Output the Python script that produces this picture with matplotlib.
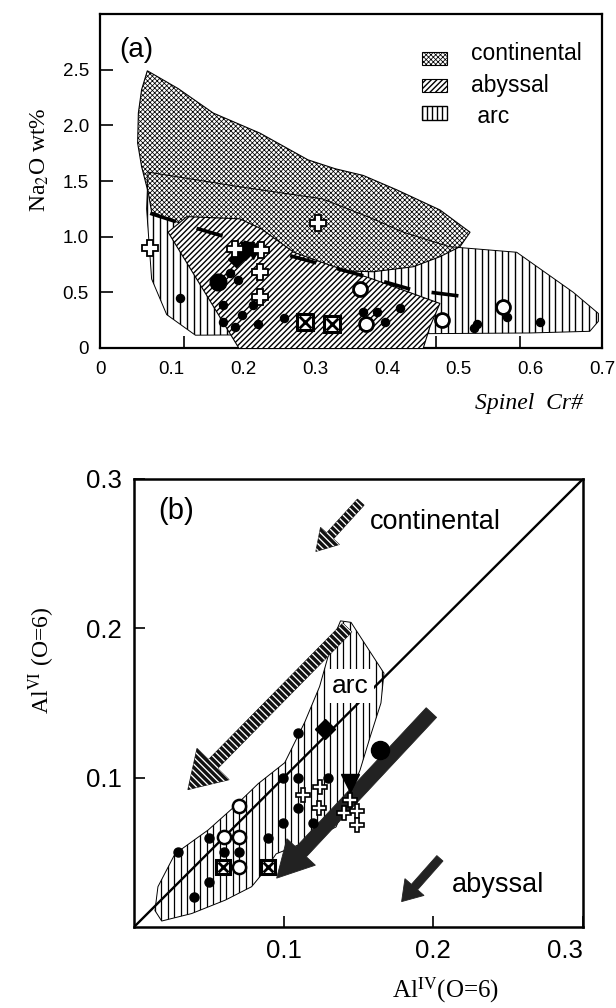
import numpy as np
import matplotlib
matplotlib.use("Agg")
import matplotlib.pyplot as plt
from matplotlib.patches import Polygon, Rectangle, FancyArrow
from matplotlib.collections import LineCollection

plt.rcParams['font.family'] = ['Liberation Sans', 'DejaVu Sans']
plt.rcParams['font.serif'] = ['Liberation Serif', 'DejaVu Serif']
plt.rcParams['mathtext.fontset'] = 'stix'
plt.rcParams['hatch.linewidth'] = 0.8

# ---------------- panel (a): Na2O vs spinel Cr# ----------------
cont_field_a = [(0.066, 2.49), (0.109, 2.33), (0.158, 2.11), (0.223, 1.93), (0.29, 1.69),
                (0.328, 1.61), (0.367, 1.55), (0.414, 1.42), (0.474, 1.24), (0.516, 1.04),
                (0.502, 0.91), (0.474, 0.82), (0.437, 0.73), (0.381, 0.685), (0.30, 0.70),
                (0.20, 0.90), (0.12, 1.10), (0.072, 1.22), (0.0675, 1.39), (0.058, 1.63),
                (0.0525, 1.84), (0.0535, 2.11), (0.058, 2.32)]
abys_field_a = [(0.095, 1.04), (0.121, 1.18), (0.195, 1.16), (0.225, 1.07), (0.27, 0.86),
                (0.32, 0.745), (0.38, 0.62), (0.474, 0.40), (0.46, 0.19), (0.446, -0.1),
                (0.203, -0.1)]
arc_field_a = [(0.067, 1.58), (0.193, 1.45), (0.31, 1.34), (0.377, 1.17), (0.423, 1.04),
               (0.487, 0.91), (0.581, 0.86), (0.66, 0.50), (0.695, 0.31), (0.695, 0.24),
               (0.683, 0.15), (0.60, 0.135), (0.133, 0.115), (0.093, 0.30), (0.072, 0.62),
               (0.065, 1.25)]
trend_a_x = [0.07, 0.137, 0.27, 0.372, 0.437, 0.51]
trend_a_y = [1.21, 1.07, 0.82, 0.64, 0.52, 0.46]

dots_a_x = [0.1116, 0.172, 0.198, 0.214, 0.172, 0.188, 0.221, 0.256, 0.181, 0.193,
            0.367, 0.386, 0.3975, 0.418, 0.525, 0.521, 0.567, 0.613]
dots_a_y = [0.446, 0.386, 0.296, 0.386, 0.236, 0.19, 0.22, 0.266, 0.67, 0.61,
            0.326, 0.326, 0.236, 0.356, 0.22, 0.18, 0.28, 0.236]
bigdot_a_x = [0.165]
bigdot_a_y = [0.595]
diam_a_x = [0.19, 0.202]
diam_a_y = [0.80, 0.86]
tri_a_x = [0.205, 0.214]
tri_a_y = [0.89, 0.865]
cross_a_x = [0.0697, 0.3045, 0.188, 0.225, 0.223, 0.223]
cross_a_y = [0.90, 1.12, 0.89, 0.88, 0.685, 0.46]
circ_a_x = [0.363, 0.371, 0.4775, 0.5625]
circ_a_y = [0.53, 0.213, 0.25, 0.37]
boxx_a_x = [0.286, 0.323]
boxx_a_y = [0.236, 0.22]

xticks_a = [0, 0.1, 0.2, 0.3, 0.4, 0.5, 0.6, 0.7]
xticklabels_a = ['0', '0.1', '0.2', '0.3', '0.4', '0.5', '0.6', '0.7']
yticks_a = [0, 0.5, 1.0, 1.5, 2.0, 2.5]
yticklabels_a = ['0', '0.5', '1.0', '1.5', '2.0', '2.5']
legend_names = ['continental', 'abyssal', ' arc']

# ---------------- panel (b): AlVI vs AlIV ----------------
arc_field_b = [(0.138, 0.205), (0.145, 0.204), (0.167, 0.170), (0.165, 0.150), (0.158, 0.128),
               (0.151, 0.105), (0.135, 0.067), (0.115, 0.057), (0.095, 0.049), (0.086, 0.036),
               (0.0786, 0.027), (0.061, 0.018), (0.0385, 0.009), (0.0185, 0.004), (0.014, 0.011),
               (0.016, 0.027), (0.0274, 0.049), (0.0496, 0.065), (0.0675, 0.081), (0.083, 0.096),
               (0.1007, 0.11), (0.114, 0.137), (0.124, 0.161), (0.133, 0.193)]

dots_b_x = [0.0296, 0.0403, 0.0503, 0.0503, 0.0603, 0.0703, 0.0897, 0.0997, 0.0997,
            0.1098, 0.1098, 0.1098, 0.1298, 0.1198]
dots_b_y = [0.0499, 0.020, 0.0595, 0.0304, 0.0499, 0.0499, 0.0595, 0.0695, 0.0998,
            0.130, 0.0998, 0.0797, 0.0998, 0.0696]
circ_b_x = [0.0703, 0.0603, 0.0703, 0.0703]
circ_b_y = [0.0807, 0.0606, 0.0606, 0.0404]
boxx_b_x = [0.0596, 0.0892]
boxx_b_y = [0.0400, 0.0400]
cross_b_x = [0.113, 0.1243, 0.1233, 0.1443, 0.140, 0.1488, 0.1488]
cross_b_y = [0.0886, 0.094, 0.0796, 0.0852, 0.0763, 0.0774, 0.0685]
diam_b_x = [0.1276]
diam_b_y = [0.1327]
tri_b_x = [0.1443]
tri_b_y = [0.0964]
bigdot_b_x = [0.1643]
bigdot_b_y = [0.1188]

# trend arrows: (tail x, tail y, tip x, tip y)
arrow_cont_b = (0.1515, 0.2845, 0.1215, 0.2515)
arrow_arc_b = (0.1425, 0.2005, 0.036, 0.092)
arrow_abys_b = (0.1987, 0.1436, 0.0953, 0.0327)
arrow_abys_small_b = (0.2044, 0.046, 0.1788, 0.017)

ticks_b = [0.1, 0.2, 0.3]
ticklabels_b = ['0.1', '0.2', '0.3']

W, H = 616, 1008
fig = plt.figure(figsize=(W / 100, H / 100), dpi=100)


def hatch_lw(artist, lw):
    if hasattr(artist, 'set_hatch_linewidth'):
        artist.set_hatch_linewidth(lw)


def vstripe_field(ax, verts, step, lw, z):
    base = Polygon(verts, closed=True, facecolor='white', edgecolor='none', zorder=z)
    ax.add_patch(base)
    xs = [v[0] for v in verts]
    ys = [v[1] for v in verts]
    pos = np.arange(min(xs), max(xs), step)
    lines = ax.vlines(pos, min(ys), max(ys), colors='black', linewidth=lw, zorder=z + 0.05)
    lines.set_clip_path(base)
    return base


def striped_arrow(ax, spec, width, hw, hl, step, z):
    x0, y0, x1, y1 = spec
    arr = FancyArrow(x0, y0, x1 - x0, y1 - y0, width=width, head_width=hw, head_length=hl,
                     length_includes_head=True, facecolor='#111111', edgecolor='#111111',
                     linewidth=0.6, zorder=z)
    ax.add_patch(arr)
    cmin = min(x0, x1) + min(y0, y1) - 2 * hw
    cmax = max(x0, x1) + max(y0, y1) + 2 * hw
    segs = [[(c + 1.0, -1.0), (c - 1.0, 1.0)] for c in np.arange(cmin, cmax, step)]
    lc = LineCollection(segs, colors='white', linewidths=0.95, zorder=z + 0.05)
    ax.add_collection(lc, autolim=False)
    lc.set_clip_path(arr)


def solid_arrow(ax, spec, width, hw, hl, z):
    x0, y0, x1, y1 = spec
    arr = FancyArrow(x0, y0, x1 - x0, y1 - y0, width=width, head_width=hw, head_length=hl,
                     length_includes_head=True, facecolor='#222222', edgecolor='#222222',
                     linewidth=0.6, zorder=z)
    ax.add_patch(arr)


def boxed_x(ax, xs, ys, ms, z):
    ax.plot(xs, ys, 's', ms=ms, mfc='white', mec='black', mew=2.2, zorder=z, ls='none')
    ax.plot(xs, ys, 'x', ms=ms * 0.7, mec='black', mew=2.0, zorder=z + 0.1, ls='none')


# ======== panel (a) ========
ax = fig.add_axes([100 / W, 1 - 348 / H, 502 / W, 334 / H])
ax.set_xlim(0, 0.7)
ax.set_ylim(0, 3.0)

arc_a = vstripe_field(ax, arc_field_a, 6.7 / 717, 1.0, 1)
cont = Polygon(cont_field_a, closed=True, facecolor='white', edgecolor='black',
               hatch='xxxxxxx', linewidth=0.8, zorder=2)
hatch_lw(cont, 0.55)
ax.add_patch(cont)
ax.add_patch(Polygon(arc_field_a, closed=True, facecolor='none', edgecolor='black',
                     linewidth=0.7, zorder=2.5))
abys = Polygon(abys_field_a, closed=True, facecolor='white', edgecolor='black',
               hatch='//////', linewidth=0.8, zorder=3)
hatch_lw(abys, 1.0)
ax.add_patch(abys)

ax.plot(trend_a_x, trend_a_y, color='black', lw=2.6, dashes=(7.5, 6.0), zorder=4,
        solid_capstyle='butt', dash_capstyle='butt')

ax.plot(dots_a_x, dots_a_y, 'o', ms=5.8, color='black', zorder=5, ls='none')
ax.plot(bigdot_a_x, bigdot_a_y, 'o', ms=12, color='black', zorder=5, ls='none')
ax.plot(diam_a_x, diam_a_y, 'D', ms=8, color='black', zorder=5, ls='none')
ax.plot(tri_a_x, tri_a_y, 'v', ms=10, color='black', zorder=5, ls='none')
ax.plot(cross_a_x, cross_a_y, 'P', ms=11, mfc='white', mec='black', mew=1.3, zorder=6, ls='none')
ax.plot(circ_a_x, circ_a_y, 'o', ms=10, mfc='white', mec='black', mew=2.0, zorder=6, ls='none')
boxed_x(ax, boxx_a_x, boxx_a_y, 12, 6)

# legend
leg_y = [2.54, 2.30, 2.05]
leg_txt_y = [2.585, 2.30, 2.02]
for i, name in enumerate(legend_names):
    y0 = leg_y[i]
    if i == 2:
        r = Rectangle((0.4487, y0), 0.0348, 0.12, facecolor='white', edgecolor='none', zorder=5)
        ax.add_patch(r)
        lines = ax.vlines(np.arange(0.4487, 0.4835, 0.0072), y0, y0 + 0.12, colors='black',
                          linewidth=1.0, zorder=5.1)
        lines.set_clip_path(r)
        ax.add_patch(Rectangle((0.4487, y0), 0.0348, 0.12, facecolor='none',
                               edgecolor='black', linewidth=1.0, zorder=5.2))
    else:
        r = Rectangle((0.4487, y0), 0.0348, 0.12, facecolor='white', edgecolor='black',
                      hatch='xxxxxxx' if i == 0 else '//////', linewidth=0.8, zorder=5)
        hatch_lw(r, 0.55 if i == 0 else 1.0)
        ax.add_patch(r)
    ax.text(0.5174, leg_txt_y[i], name, fontsize=16.5, ha='left', va='baseline', zorder=6)

ax.text(0.0264, 2.615, '(a)', fontsize=20, ha='left', va='baseline')

ax.set_xticks(xticks_a)
ax.set_xticklabels(xticklabels_a)
ax.set_yticks(yticks_a)
ax.set_yticklabels(yticklabels_a)
ax.set_xticks([0.117, 0.234, 0.353, 0.469, 0.586], minor=True)
ax.tick_params(axis='x', which='major', length=0, pad=9, labelsize=13.5)
ax.tick_params(axis='x', which='minor', direction='in', length=9, width=1.2)
ax.tick_params(axis='y', which='major', direction='in', length=9, width=1.2, pad=8,
               labelsize=13.5)
for s in ax.spines.values():
    s.set_linewidth(1.6)

fig.text(40 / W, 1 - 160 / H, 'Na$_2$O wt%', rotation=90, ha='center', va='center',
         fontsize=17, family='serif')
fig.text(583 / W, 1 - 403 / H, 'Spinel  Cr#', ha='right', va='center', fontsize=17,
         family='serif', style='italic')

# ======== panel (b) ========
bx = fig.add_axes([134 / W, 1 - 927 / H, 449 / W, 448 / H])
bx.set_xlim(0, 0.3)
bx.set_ylim(0, 0.3)

vstripe_field(bx, arc_field_b, 6.5 / 1497, 0.9, 1)
bx.add_patch(Polygon(arc_field_b, closed=True, facecolor='none', edgecolor='black',
                     linewidth=0.7, zorder=1.5))
bx.plot([0, 0.3], [0, 0.3], color='black', lw=1.7, zorder=2)
bx.text(0.1443, 0.1613, 'arc', fontsize=19, ha='center', va='center', zorder=3,
        bbox=dict(boxstyle='square,pad=0.2', facecolor='white', edgecolor='none'))

striped_arrow(bx, arrow_cont_b, 0.006, 0.017, 0.014, 0.0045, 4)
striped_arrow(bx, arrow_arc_b, 0.0085, 0.030, 0.024, 0.0045, 4)
solid_arrow(bx, arrow_abys_b, 0.0095, 0.026, 0.024, 4)
solid_arrow(bx, arrow_abys_small_b, 0.0055, 0.017, 0.013, 4)

bx.plot(dots_b_x, dots_b_y, 'o', ms=6.5, color='black', zorder=5, ls='none')
bx.plot(bigdot_b_x, bigdot_b_y, 'o', ms=13, color='black', zorder=5, ls='none')
bx.plot(diam_b_x, diam_b_y, 'D', ms=10, color='black', zorder=5, ls='none')
bx.plot(tri_b_x, tri_b_y, 'v', ms=13, color='black', zorder=5, ls='none')
bx.plot(circ_b_x, circ_b_y, 'o', ms=9.5, mfc='white', mec='black', mew=1.8, zorder=6, ls='none')
bx.plot(cross_b_x, cross_b_y, 'P', ms=10, mfc='white', mec='black', mew=1.2, zorder=6, ls='none')
boxed_x(bx, boxx_b_x, boxx_b_y, 10.5, 6)

bx.text(0.016, 0.273, '(b)', fontsize=21, ha='left', va='baseline')
bx.text(0.1577, 0.2664, 'continental', fontsize=19.5, ha='left', va='baseline')
bx.text(0.2123, 0.0237, 'abyssal', fontsize=19.5, ha='left', va='baseline')

bx.set_xticks(ticks_b)
bx.set_xticklabels(ticklabels_b)
bx.set_yticks(ticks_b)
bx.set_yticklabels(ticklabels_b)
bx.get_xticklabels()[-1].set_horizontalalignment('right')
bx.tick_params(axis='both', direction='in', length=8, width=1.2, pad=9, labelsize=18.5)
for s in bx.spines.values():
    s.set_linewidth(1.8)

fig.text(42 / W, 1 - 660 / H, 'Al$^{\\rm VI}$ (O=6)', rotation=90, ha='center', va='center',
         fontsize=17, family='serif')
fig.text(446 / W, 1 - 990 / H, 'Al$^{\\rm IV}$(O=6)', ha='center', va='center',
         fontsize=18, family='serif')

fig.savefig('out.png', dpi=100)
